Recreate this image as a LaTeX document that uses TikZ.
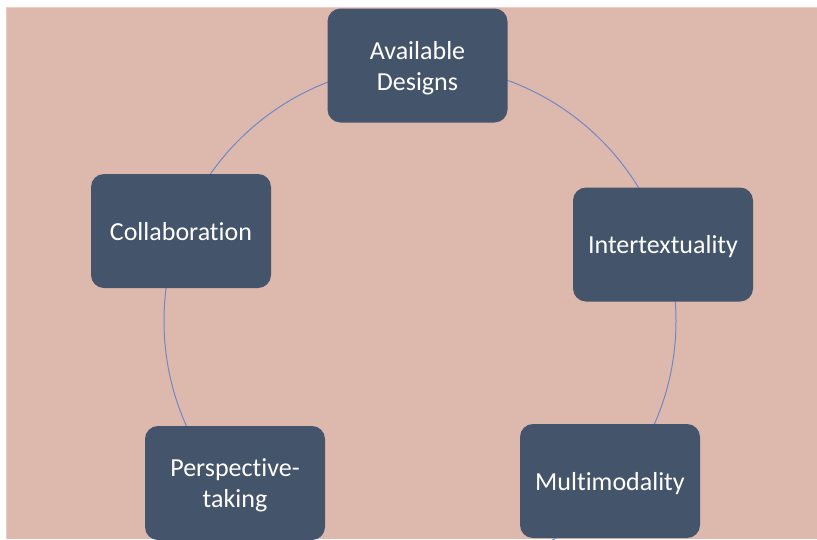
\documentclass[tikz,border=0pt]{standalone}
\usepackage{fontspec}
\setmainfont{Carlito}[Ligatures=NoCommon]
\usepackage{tikz}
\usetikzlibrary{positioning, calc}

\definecolor{bgpink}{HTML}{DDB8AC}
\definecolor{edgepink}{HTML}{EFCBC2}
\definecolor{boxblue}{HTML}{44546A}
\definecolor{ringblue}{HTML}{7088C8}

\begin{document}
\begin{tikzpicture}[x=1pt, y=-1pt,
    stage/.style={fill=boxblue, rounded corners=13pt, minimum width=180pt,
        minimum height=114pt, inner sep=0pt, align=center, text=white,
        text depth=0pt, font=\fontsize{26}{31}\selectfont}]
    % Canvas and pink panel
    \useasboundingbox (0,0) rectangle (817,539);
    \fill[white] (0,0) rectangle (817,539);
    \fill[bgpink] (6,7) rectangle (817,539);
    \draw[edgepink, line width=1.2pt] (6.6,539) -- (6.6,7.6) -- (817,7.6);

    % Ring center
    \coordinate (O) at (420,321);
    \def\radius{256pt}

    % Ring, cut to the panel
    \begin{scope}
        \clip (6,7) rectangle (817,539);
        \draw[ringblue, line width=1pt] (O) circle (\radius);
    \end{scope}

    % Stages of the cycle
    \node[stage] (designs) at (417.5,65.5) {Available\\Designs};
    \node[stage] (intertext) at (663,244.5) {Intertextuality};
    \node[stage] (multimodal) at (610,481) {Multimodality};
    \node[stage] (perspective) at (235,483) {Perspective-\\taking};
    \node[stage] (collab) at (181,231) {Collaboration};
\end{tikzpicture}
\end{document}
